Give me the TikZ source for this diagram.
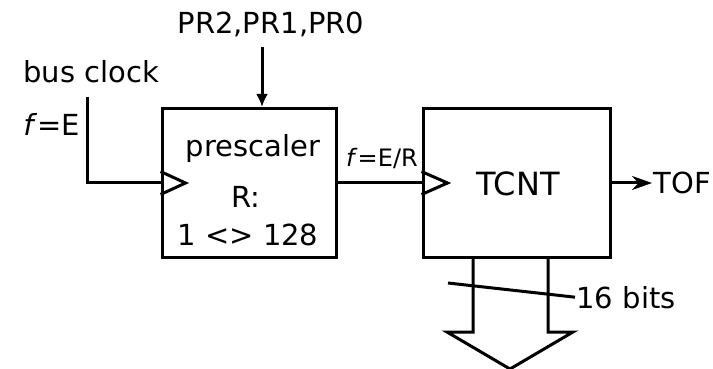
\documentclass[tikz,border=0pt]{standalone}
\usepackage{fontspec}
\setmainfont{DejaVu Sans}
\usetikzlibrary{arrows.meta,calc,positioning}

\begin{document}
\begin{tikzpicture}[x=0.5pt,y=-0.5pt,line width=1.5pt,
  lbl/.style={inner sep=0pt,font=\fontsize{14.5}{17}\selectfont},
  blk/.style={draw,minimum width=87pt,minimum height=74.5pt,inner sep=0pt}]
  \useasboundingbox (0,0) rectangle (713,369);
  % the two blocks
  \node[blk] (pre) at (249,183) {};
  \node[blk,minimum width=93.5pt] (tcnt) at (516.5,183) {};
  % clock inputs
  \draw (pre.west) ++(0,-11.5) -- ++(25,11.5) -- ++(-25,11.5);
  \draw (tcnt.west) ++(0,-11.5) -- ++(26,11.5) -- ++(-26,11.5);
  % texts
  \node[lbl,anchor=base] (pr) at (271,34) {PR2,PR1,PR0};
  \node[lbl,anchor=base west] (bus) at (22,83) {bus clock};
  \node[lbl,anchor=base west] (fe) at (22,136) {\textit{f}=E};
  \node[lbl,anchor=base] (name) at (253,157) {prescaler};
  \node[lbl,anchor=base] (ratio) at (246,208) {R:};
  \node[lbl,anchor=base] (range) at (248,246) {1 <> 128};
  \node[lbl,anchor=base,font=\fontsize{12}{14}\selectfont] (fer) at (382,167) {\textit{f}=E/R};
  \node[lbl,anchor=base,font=\fontsize{16}{19}\selectfont] (cnt) at (518,196) {TCNT};
  \node[lbl,anchor=west] (tof) at (652,183) {TOF};
  \node[lbl,anchor=base west] (bits) at (575,308) {16 bits};
  % connectors
  \coordinate (prin) at (262,47);
  \coordinate (clk) at (87,97);
  \draw[-{Latex[length=6.5pt,width=6pt]}] (prin) -- (prin |- pre.north);
  \draw (clk) |- (pre.west);
  \draw (pre.east) -- (tcnt.west);
  \draw[-{Stealth[length=10pt,width=7pt]}] (tcnt.east) -- (tof.west);
  % 16 bit bus
  \draw (473,257) -- (473,332) -- (447,332) -- (510,369) -- (573,332)
    -- (548,332) -- (548,257);
  \coordinate (sl) at (448,283);
  \draw (sl) -- (bits.west);
\end{tikzpicture}
\end{document}
